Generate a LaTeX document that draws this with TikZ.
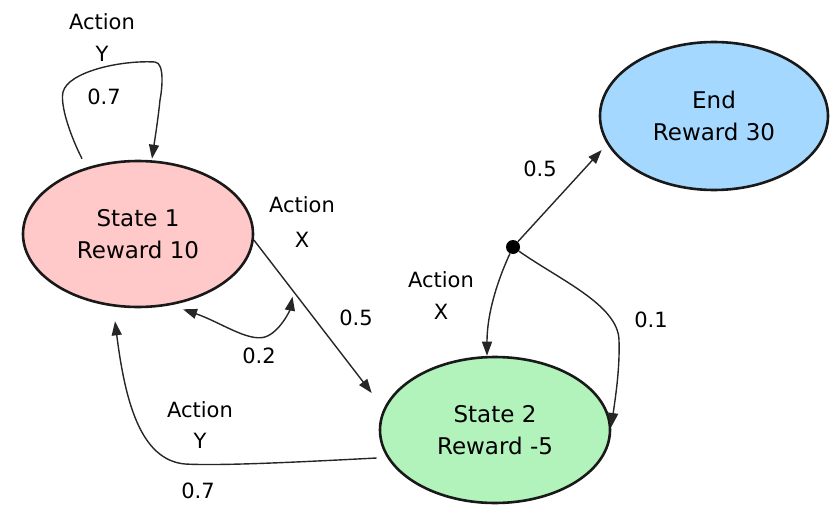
\documentclass[tikz,border=0pt]{standalone}
\usepackage{fontspec}
\setmainfont{DejaVu Sans}
\usetikzlibrary{shapes.geometric,arrows.meta,calc}
\definecolor{pinkfill}{HTML}{FFC9C9}
\definecolor{bluefill}{HTML}{A5D8FF}
\definecolor{greenfill}{HTML}{B2F2BB}
\begin{document}
\begin{tikzpicture}[x=1pt,y=-1pt,
  state/.style={ellipse, draw=black!90, line width=2.6pt, minimum width=230pt, minimum height=146pt, align=center, font=\fontsize{23}{32}\selectfont, inner sep=0pt},
  lbl/.style={font=\fontsize{21}{24}\selectfont, inner sep=0pt, align=center},
  arr/.style={-{Triangle[length=14pt,width=10pt]}, line width=1.4pt, black!85},
  biarr/.style={{Triangle[length=14pt,width=10pt]}-{Triangle[length=14pt,width=10pt]}, line width=1.4pt, black!85}]
\useasboundingbox (0,0) rectangle (833,506);

\node[state, fill=pinkfill] (s1) at (138,234) {State 1\\Reward 10};
\node[state, fill=greenfill] (s2) at (495,430) {State 2\\Reward -5};
\node[state, fill=bluefill, minimum width=228pt, minimum height=148pt] (end) at (714,116) {End\\Reward 30};
\node[circle, fill=black, minimum size=14pt, inner sep=0pt] (dot) at (513,247) {};

% self loop on State 1
\draw[arr] ([shift={(-56,-1)}]s1.north) .. controls (70,135) and (60,105) .. (63,92)
  .. controls (68,72) and (120,60) .. (155,62)
  .. controls (165,63) and (162,90) .. (160,100)
  .. controls (158,120) and (154,145) .. ([shift={(14,-1)}]s1.north);
\node[lbl] (a1) at (102,22) {Action};
\node[lbl] (y1) at (102,54) {Y};
\node[lbl] (p1) at (104,97) {0.7};

% State 1 -> State 2 (Action X)
\draw[arr] (s1.-3) -- ([shift={(-7,-37)}]s2.west) coordinate[pos=0.37] (xa);
\node[lbl] (a2) at (302,205) {Action};
\node[lbl] (x2) at (302,240) {X};
\node[lbl] (p2) at (356,318) {0.5};

% 0.2 back to State 1
\draw[biarr] ([shift={(45,1)}]s1.south) .. controls (220,322) and (248,342) .. (265,337)
  .. controls (280,332) and (290,310) .. ([shift={(-5,0)}]xa);
\node[lbl] (p3) at (259,356) {0.2};

% State 2 -> State 1 (Action Y)
\draw[arr] ([shift={(-2,28)}]s2.west) .. controls (300,462) and (220,466) .. (185,464)
  .. controls (140,460) and (125,400) .. ([shift={(-23,13)}]s1.south);
\node[lbl] (a4) at (200,410) {Action};
\node[lbl] (y4) at (200,441) {Y};
\node[lbl] (p4) at (198,491) {0.7};

% dot connections
\draw[arr] (dot) -- ([shift={(3,34)}]end.west);
\node[lbl] (p5) at (540,169) {0.5};
\draw[arr] (dot) .. controls (500,275) and (487,310) .. ([shift={(-8,0)}]s2.north);
\node[lbl] (a6) at (441,280) {Action};
\node[lbl] (x6) at (441,312) {X};
\draw[arr] (dot) .. controls (560,280) and (618,305) .. (619,340)
  .. controls (620,370) and (615,400) .. ([shift={(0,-3)}]s2.east);
\node[lbl] (p7) at (651,320) {0.1};
\end{tikzpicture}
\end{document}
